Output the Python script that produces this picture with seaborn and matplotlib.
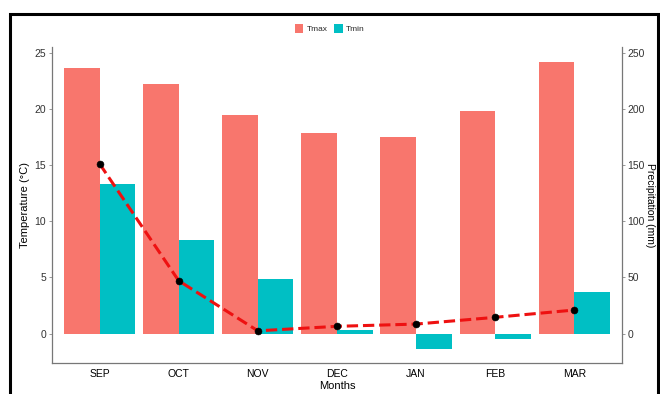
import pandas as pd
import matplotlib
matplotlib.use("Agg")
import matplotlib.pyplot as plt
import seaborn as sns
from matplotlib.patches import Rectangle

months = ["SEP", "OCT", "NOV", "DEC", "JAN", "FEB", "MAR"]
tmax = [23.6, 22.2, 19.4, 17.8, 17.5, 19.8, 24.2]
tmin = [13.3, 8.3, 4.9, 0.3, -1.4, -0.5, 3.7]
precip = [151, 47, 2.5, 6.5, 8.5, 14.5, 21]

sns.set_theme(style="white")
plt.rcParams["font.family"] = ["Liberation Sans", "DejaVu Sans"]

df = pd.DataFrame({"Months": months * 2,
                   "value": tmax + tmin,
                   "var": ["Tmax"] * 7 + ["Tmin"] * 7})

fig = plt.figure(figsize=(6.6, 3.94), dpi=100)
ax = fig.add_axes([0.079, 0.079, 0.863, 0.802])
sns.barplot(data=df, x="Months", y="value", hue="var", order=months,
            palette={"Tmax": "#F8766D", "Tmin": "#00BFC4"}, width=0.9,
            saturation=1, linewidth=0, ax=ax, legend=True)
ax.set_xlim(-0.6, 6.6)
ax.set_ylim(-2.6, 25.5)
ax.set_yticks([0, 5, 10, 15, 20, 25])
ax.set_xlabel("Months", fontsize=8, color="black", labelpad=1)
ax.set_ylabel("Temperature (°C)", fontsize=8, color="black")
ax.yaxis.set_label_coords(-0.039, 0.5)

ax2 = ax.twinx()
pdf = pd.DataFrame({"Months": months, "precip": precip})
sns.lineplot(data=pdf, x="Months", y="precip", ax=ax2, color="#EE1111",
             linestyle="--", linewidth=2.2, dashes=(3, 2.2))
sns.scatterplot(data=pdf, x="Months", y="precip", ax=ax2, color="black",
                s=25, edgecolor="black", zorder=5)
ax2.set_ylim(-26, 255)
ax2.set_yticks([0, 50, 100, 150, 200, 250])
ax2.set_ylabel("Precipitation (mm)", fontsize=7.5, color="black",
               rotation=-90, va="center")
ax2.yaxis.set_label_coords(1.049, 0.5)
ax2.set_xlim(-0.6, 6.6)

for a in (ax, ax2):
    for s in a.spines.values():
        s.set_visible(False)
    a.tick_params(labelsize=7.5, colors="#333333", length=2.5, width=0.6,
                  pad=2)
    a.tick_params(axis="both", color="#888888")
ax.spines["left"].set_visible(True)
ax.spines["bottom"].set_visible(True)
ax2.spines["right"].set_visible(True)
for s in (ax.spines["left"], ax.spines["bottom"], ax2.spines["right"]):
    s.set_color("#777777")
    s.set_linewidth(0.9)
ax.tick_params(axis="x", labelsize=7.5, colors="black", color="#888888")
ax.tick_params(axis="y", left=True)
ax2.tick_params(axis="y", right=True, pad=1.5)

handles, labels = ax.get_legend_handles_labels()
ax.get_legend().remove()
fig.legend(handles, labels, loc="center", bbox_to_anchor=(0.5, 0.928),
           ncol=2, frameon=False, fontsize=6, handlelength=1.0,
           handleheight=1.3, handletextpad=0.4, columnspacing=0.8)

fig.patches.append(Rectangle((10 / 660, -0.01), 648 / 660, 1 - 14 / 394 + 0.01,
                             transform=fig.transFigure, fill=False,
                             edgecolor="black", linewidth=2.2))

fig.savefig("out.png", dpi=100)
